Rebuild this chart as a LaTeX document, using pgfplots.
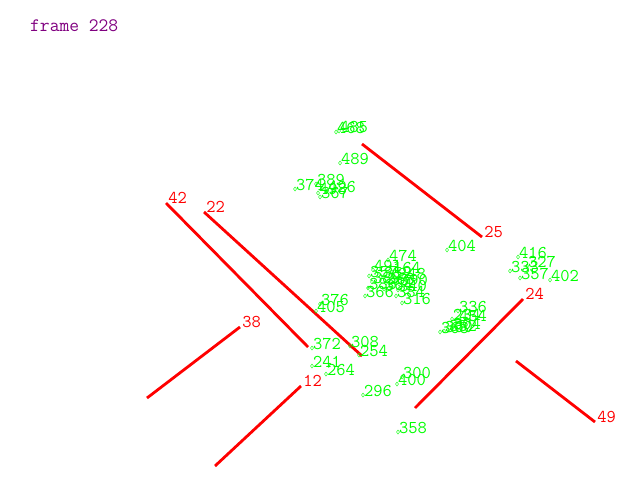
\documentclass[border=0pt]{standalone}
\usepackage{pgfplots}
\pgfplotsset{compat=1.18}
\usepackage{pgfplotstable}
\definecolor{gr}{RGB}{0,255,0}
\definecolor{rd}{RGB}{255,0,0}
\definecolor{pu}{RGB}{128,0,128}
\pgfplotstableread{
x y lab
336 132 468
339 131 485
340 163 489
295 189 374
316 184 389
327 191 426
318 193 498
320 197 367
447 250 404
518 257 416
510 271 333
527 266 327
520 278 357
550 280 402
388 260 474
373 270 491
392 272 164
369 276 357
383 277 352
397 278 348
372 282 389
386 283 368
399 284 390
368 288 386
384 289 364
398 290 340
365 296 366
396 296 384
402 303 316
320 304 376
316 311 405
458 311 336
452 319 234
458 320 454
440 332 368
444 331 360
448 330 352
452 328 304
312 348 372
350 346 308
359 355 254
312 366 241
326 374 264
363 395 296
402 377 300
397 384 400
398 432 358
}\greenpts
\begin{document}
\begin{tikzpicture}
\begin{axis}[
  scale only axis, width=640pt, height=480pt,
  xmin=0, xmax=640, ymin=0, ymax=480, y dir=reverse,
  hide axis, clip=false,
]
\addplot[only marks, mark=diamond, mark size=2pt, color=gr,
  nodes near coords, point meta=explicit symbolic,
  every node near coord/.style={anchor=south west, inner sep=0pt, xshift=1pt, yshift=-2pt, font=\ttfamily\fontsize{18}{18}\selectfont, text=gr}]
  table[x=x, y=y, meta=lab]{\greenpts};
\tikzset{rl/.style={color=rd, line width=2.8pt}, rn/.style={anchor=south west, inner sep=0pt, xshift=1pt, yshift=-2pt, font=\ttfamily\fontsize{18}{18}\selectfont, text=rd}}
\addplot[rl] coordinates {(166,203) (308,347)} node[rn, pos=0] {42};
\addplot[rl] coordinates {(204,212) (362,356)} node[rn, pos=0] {22};
\addplot[rl] coordinates {(482,237) (362,144)} node[rn, pos=0] {25};
\addplot[rl] coordinates {(240,327) (147,398)} node[rn, pos=0] {38};
\addplot[rl] coordinates {(301,386) (215,466)} node[rn, pos=0] {12};
\addplot[rl] coordinates {(523,299) (415,408)} node[rn, pos=0] {24};
\addplot[rl] coordinates {(595,422) (516,361)} node[rn, pos=0] {49};
\node[anchor=base west, inner sep=0pt, text=pu, font=\ttfamily\fontsize{19}{19}\selectfont] at (axis cs:30,31) {frame 228};
\end{axis}
\pgfresetboundingbox
\path[use as bounding box] (current axis.south west) rectangle (current axis.north east);
\end{tikzpicture}
\end{document}
